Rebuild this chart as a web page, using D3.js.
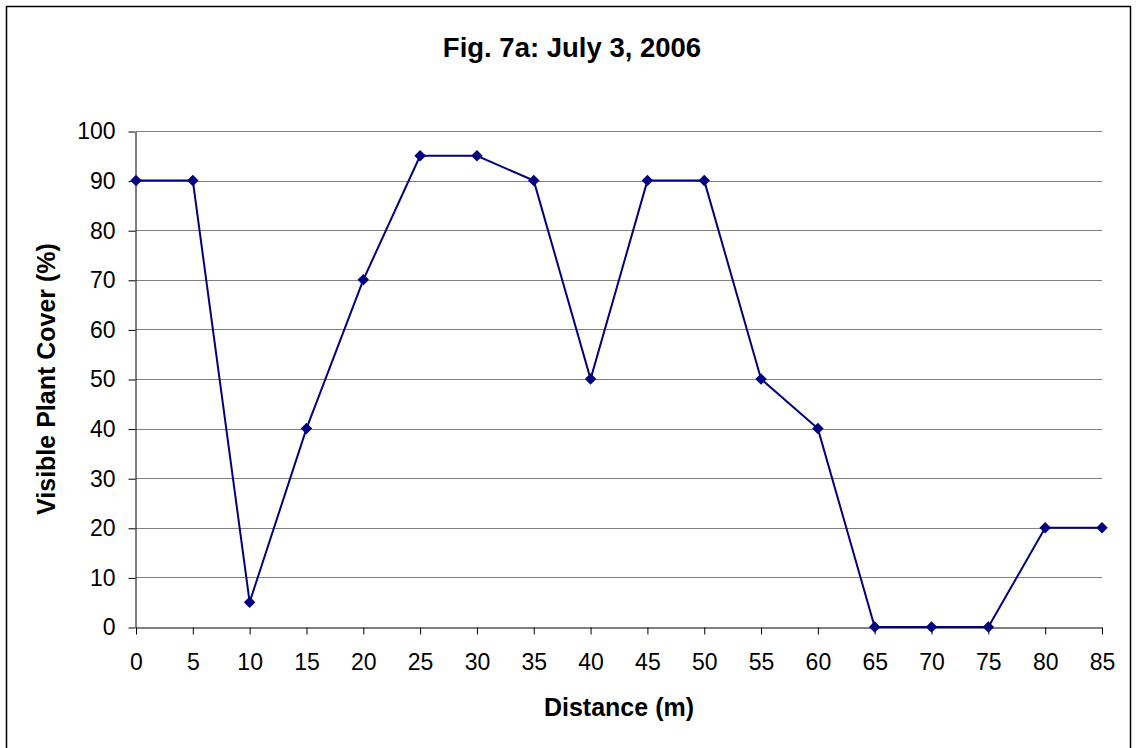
<!DOCTYPE html>
<html><head><meta charset="utf-8">
<script src="https://cdn.jsdelivr.net/npm/d3@7"></script>
<style>body{margin:0;background:#fff;}svg{display:block;font-family:Arial,"Liberation Sans",sans-serif;}</style>
</head><body>
<svg id="c" width="1138" height="748"></svg>
<script>
const title = "Fig. 7a: July 3, 2006";
const xTitle = "Distance (m)";
const yTitle = "Visible Plant Cover (%)";
const distances = [0,5,10,15,20,25,30,35,40,45,50,55,60,65,70,75,80,85];
const cover = [90,90,5,40,70,95,95,90,50,90,90,50,40,0,0,0,20,20];
const yTicks = [0,10,20,30,40,50,60,70,80,90,100];

const FONT = "Arial,'Liberation Sans',sans-serif";
const svg = d3.select("#c");
svg.append("rect").attr("x",6.5).attr("y",6.5).attr("width",1124).attr("height",760)
  .attr("fill","#fff").attr("stroke","#000").attr("stroke-width",1.5);

const L=136, R=1102, T=131, B=627;
const x = d3.scaleLinear().domain([0,85]).range([L,R]);
const y = d3.scaleLinear().domain([0,100]).range([B,T]);

// gridlines
svg.append("g").selectAll("line").data(yTicks.filter(d=>d>0)).join("line")
  .attr("x1",L).attr("x2",R).attr("y1",d=>Math.round(y(d))+0.5).attr("y2",d=>Math.round(y(d))+0.5)
  .attr("stroke","#808080").attr("stroke-width",1);

// y axis
const ya = svg.append("g").attr("transform",`translate(${L-0.5},0.5)`)
  .call(d3.axisLeft(y).tickValues(yTicks).tickSize(7).tickPadding(13).tickSizeOuter(0));
ya.attr("font-size",null).attr("font-family",null);
ya.select(".domain").attr("stroke","#000");
ya.selectAll(".tick line").attr("stroke","#000");
ya.selectAll("text").style("font-size","23px").attr("fill","#000").style("font-family",FONT);

// x axis
const xa = svg.append("g").attr("transform",`translate(0,${B+0.5})`)
  .call(d3.axisBottom(x).tickValues(distances).tickSize(7).tickPadding(19).tickSizeOuter(0));
xa.attr("font-size",null).attr("font-family",null);
xa.select(".domain").attr("stroke","#000");
xa.selectAll(".tick line").attr("stroke","#000");
xa.selectAll("text").style("font-size","23px").attr("fill","#000").style("font-family",FONT);

// line
const data = distances.map((d,i)=>({x:d,y:cover[i]}));
svg.append("path").datum(data)
  .attr("d",d3.line().x(d=>x(d.x)).y(d=>y(d.y)))
  .attr("fill","none").attr("stroke","#000080").attr("stroke-width",2);
svg.append("g").selectAll("path").data(data).join("path")
  .attr("d",d3.symbol().type(d3.symbolDiamond2).size(84))
  .attr("transform",d=>`translate(${x(d.x)},${y(d.y)})`)
  .attr("fill","#000080");

// titles
svg.append("text").attr("x",572).attr("y",57).attr("text-anchor","middle")
  .style("font-size","27.5px").attr("font-weight","bold").style("font-family",FONT).text(title);
svg.append("text").attr("x",619).attr("y",716).attr("text-anchor","middle")
  .style("font-size","25px").attr("font-weight","bold").style("font-family",FONT).text(xTitle);
svg.append("text").attr("transform",`translate(55,${(T+B)/2}) rotate(-90)`).attr("text-anchor","middle")
  .style("font-size","25px").attr("font-weight","bold").style("font-family",FONT).text(yTitle);
</script>
</body></html>
